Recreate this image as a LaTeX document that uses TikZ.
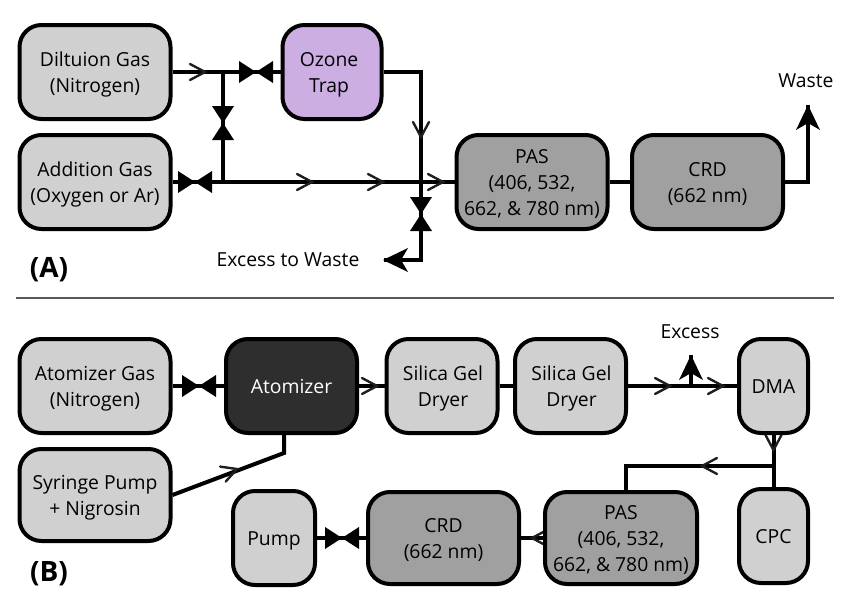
\documentclass[tikz,border=0pt]{standalone}
\usepackage{fontspec}
\usetikzlibrary{backgrounds}
\setmainfont{Open Sans}
\newcommand{\ctxt}[1]{\raisebox{-5.5pt}[0pt][0pt]{\begin{tabular}{@{}c@{}}#1\end{tabular}}}
\tikzset{
  basebox/.style={draw=black,line width=3pt,rounded corners=16.5pt,align=center,inner sep=0pt,text=black,
    font=\fontsize{14.5}{19.5}\selectfont},
  lightbox/.style={basebox,fill=boxlight},
  midbox/.style={basebox,fill=boxmid},
  darkbox/.style={basebox,fill=boxdark,text=white},
  purplebox/.style={basebox,fill=boxpurple},
  pipe/.style={line width=3pt,line cap=butt},
  lab/.style={font=\fontsize{14.5}{19.5}\selectfont,inner sep=0pt},
  panel/.style={font=\fontsize{21}{24}\selectfont\bfseries,inner sep=0pt},
  chevmark/.pic={\draw[line width=1.8pt,draw=black!88,line cap=round] (-15,8)--(0,0)--(-15,-8);},
  valvemark/.pic={\fill (-17,-11)--(0,0)--(-17,11)--cycle; \fill (17,-11)--(0,0)--(17,11)--cycle;},
  tipmark/.pic={\fill (0,0)--(-25,12)--(-18,0)--(-25,-12)--cycle;}
}
\definecolor{boxlight}{HTML}{D0D0D0}
\definecolor{boxmid}{HTML}{A0A0A0}
\definecolor{boxdark}{HTML}{2E2E2E}
\definecolor{boxpurple}{HTML}{CCAEE3}
\begin{document}
\begin{tikzpicture}[x=0.75pt,y=-0.75pt]
\useasboundingbox (0,0) rectangle (850,600);
% boxes
\node[lightbox,minimum width=113.25pt,minimum height=70.5pt] (dil) at (95,72) {\ctxt{Diltuion Gas\\(Nitrogen)}};
\node[lightbox,minimum width=113.25pt,minimum height=70.5pt] (add) at (95,182) {\ctxt{Addition Gas\\(Oxygen or Ar)}};
\node[purplebox,minimum width=74.25pt,minimum height=70.5pt] (ozone) at (332,72) {\ctxt{Ozone\\Trap}\kern4.5pt};
\node[midbox,minimum width=113.25pt,minimum height=70.5pt] (pasA) at (532,182) {\ctxt{PAS\\(406, 532,\\662, \& 780 nm)}};
\node[midbox,minimum width=113.25pt,minimum height=70.5pt] (crdA) at (707.5,182) {\ctxt{CRD\\(662 nm)}};
\node[lightbox,minimum width=113.25pt,minimum height=70.5pt] (atgas) at (95,386) {\ctxt{Atomizer Gas\\(Nitrogen)}};
\node[darkbox,minimum width=98.25pt,minimum height=70.5pt] (atom) at (291.5,386) {\ctxt{Atomizer}};
\node[lightbox,minimum width=83.25pt,minimum height=70.5pt] (silA) at (442,386) {\kern1.5pt\ctxt{Silica Gel\\Dryer}};
\node[lightbox,minimum width=83.25pt,minimum height=70.5pt] (silB) at (570.5,386) {\kern1.5pt\ctxt{Silica Gel\\Dryer}};
\node[lightbox,minimum width=51.75pt,minimum height=70.5pt] (dma) at (773.5,386) {\ctxt{DMA}};
\node[lightbox,minimum width=51.75pt,minimum height=70.5pt] (cpc) at (773.5,536) {\ctxt{CPC}};
\node[midbox,minimum width=114pt,minimum height=69pt] (pasB) at (621,538) {\ctxt{PAS\\(406, 532,\\662, \& 780 nm)}};
\node[midbox,minimum width=113.25pt,minimum height=69pt] (crdB) at (443.5,538) {\ctxt{CRD\\(662 nm)}};
\node[lightbox,minimum width=61.5pt,minimum height=70.5pt] (pump) at (274,538) {\ctxt{Pump}};
\node[lightbox,minimum width=113.25pt,minimum height=69pt] (syr) at (95,495) {\ctxt{Syringe Pump\\+ Nigrosin}};
% free ends and junctions
\coordinate (jTop) at (223,72);
\coordinate (jLow) at (223,182);
\coordinate (jRightTop) at (421,72);
\coordinate (jRightLow) at (421,260);
\coordinate (excessA) at (384,260);
\coordinate (wasteCorner) at (808,182);
\coordinate (wasteEnd) at (808,105);
\coordinate (jExcess) at (691,386);
\coordinate (excessB) at (691,355);
\coordinate (jDma) at (773.5,466);
\coordinate (jPas) at (626,466);
\coordinate (jAtom) at (284,453);
\begin{scope}[on background layer]
% connectors
\draw[pipe] (dil.east) -- (ozone.west);
\draw[pipe] (jTop) -- (jLow);
\draw[pipe] (add.east) -- (pasA.west);
\draw[pipe] (ozone.east) -- (jRightTop) -- (jRightLow) -- (excessA);
\draw[pipe] (pasA.east) -- (crdA.west);
\draw[pipe] (crdA.east) -- (wasteCorner) -- (wasteEnd);
\draw[pipe] (atgas.east) -- (atom.west);
\draw[pipe] (atom.east) -- (silA.west);
\draw[pipe] (silA.east) -- (silB.west);
\draw[pipe] (silB.east) -- (dma.west);
\draw[pipe] (jExcess) -- (excessB);
\draw[pipe] (dma.south) -- (cpc.north);
\draw[pipe] (jDma) -- (jPas) -- (jPas |- pasB.north);
\draw[pipe] (pasB.west) -- (crdB.east);
\draw[pipe] (crdB.west) -- (pump.east);
\draw[pipe,line join=miter] (syr.east) -- (jAtom) -- (jAtom |- atom.south);
% valves
\pic at (256,72) {valvemark};
\pic at (195,182) {valvemark};
\pic[rotate=90] at (223,123) {valvemark};
\pic[rotate=90] at (421,214) {valvemark};
\pic at (199,386) {valvemark};
\pic at (342,538) {valvemark};
% arrows
\pic at (205,72) {chevmark};
\pic at (312,182) {chevmark};
\pic at (383,182) {chevmark};
\pic at (443,182) {chevmark};
\pic[rotate=-90] at (421,137) {chevmark};
\pic at (377,386) {chevmark};
\pic at (670,386) {chevmark};
\pic at (723,386) {chevmark};
\pic[rotate=-90] at (773.5,450) {chevmark};
\pic[rotate=180] at (702,466) {chevmark};
\pic[rotate=180] at (532,538) {chevmark};
\pic[rotate=20] at (237,469) {chevmark};
\pic[rotate=180] at (383,260) {tipmark};
\pic[rotate=90] at (808,105) {tipmark};
\pic[rotate=90] at (691,355) {tipmark};
\end{scope}
% labels
\node[lab] (lblExA) at (288,260) {Excess to Waste};
\node[lab] (lblWaste) at (806,81) {Waste};
\node[lab] (lblExB) at (690,332) {Excess};
\node[panel] (lblA) at (49,270) {(A)};
\node[panel] (lblB) at (49,574) {(B)};
\coordinate (sepL) at (16,298);
\coordinate (sepR) at (834,298);
\draw[line width=1.5pt,draw=black!65] (sepL) -- (sepR);
\end{tikzpicture}
\end{document}
